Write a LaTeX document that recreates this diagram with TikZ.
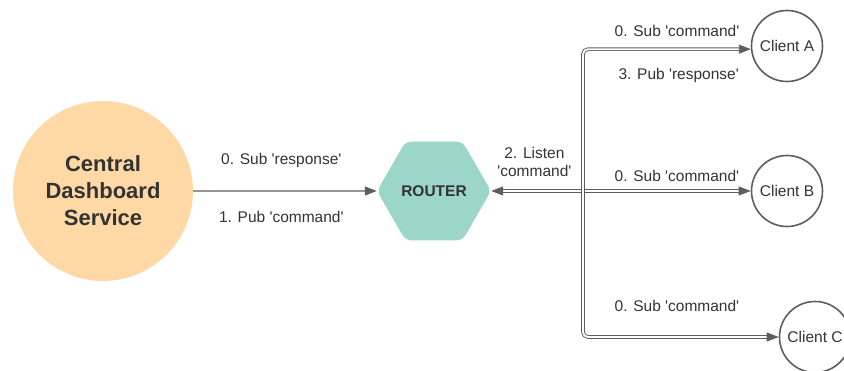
\documentclass[tikz,border=0pt]{standalone}
\usepackage{fontspec}
\setmainfont{Liberation Sans}[Ligatures=TeXOff]
\usetikzlibrary{positioning,shapes.geometric,arrows.meta}
\definecolor{peach}{HTML}{FFD9A5}
\definecolor{routerteal}{HTML}{9CD5C9}
\definecolor{linegray}{HTML}{5E5E5E}
\definecolor{textgray}{HTML}{333333}

\begin{document}
\begin{tikzpicture}[x=1pt,y=1pt,on grid,
    every node/.style={text=textgray},
    service/.style={circle, fill=peach, minimum size=180pt, align=center,
        font=\bfseries\fontsize{22}{27}\selectfont},
    router/.style={regular polygon, regular polygon sides=6, fill=routerteal,
        minimum size=114pt, inner sep=0pt, rounded corners=6pt,
        font=\bfseries\fontsize{15.5}{18}\selectfont},
    client/.style={circle, draw=linegray, line width=1.6pt, minimum size=71pt,
        inner sep=0pt, font=\fontsize{15.5}{18}\selectfont},
    lbl/.style={font=\fontsize{15.5}{18}\selectfont, align=center},
    single/.style={draw=linegray, line width=1.3pt, -{Triangle[length=12pt,width=9pt]}},
    dbl/.style={draw=linegray, double=white, double distance=1.8pt, line width=0.9pt,
        -{Triangle[length=12pt,width=9pt]}},
    corner/.style={rounded corners=5pt, to path={|- (\tikztotarget) \tikztonodes}}]
    \useasboundingbox (0,0) rectangle (844,371);
    \node[service] (dash) at (103,180) {Central\\Dashboard\\Service};
    \node[router] (router) [right=331pt of dash] {ROUTER};
    \coordinate[right=149pt of router] (hub);
    \node[client] (clientB) [right=353pt of router] {Client B};
    \node[client] (clientA) [above=145pt of clientB] {Client A};
    \node[client] (clientC) [below=146pt of clientB, xshift=28pt] {Client C};
    \path
        (dash)
            edge[single] node[lbl, pos=.48, yshift=30pt] {0. Sub 'response'}
                         node[lbl, pos=.48, yshift=-26pt] {1. Pub 'command'} (router)
        (hub)
            edge[dbl] node[lbl, pos=.53, yshift=29pt] {2. Listen\\'command'} (router)
            edge[dbl] node[lbl, pos=.56, yshift=15pt] {0. Sub 'command'} (clientB)
            edge[dbl, corner] node[lbl, pos=.78, yshift=18pt] {0. Sub 'command'}
                              node[lbl, pos=.785, yshift=-26pt] {3. Pub 'response'} (clientA.185)
            edge[dbl, corner] node[lbl, pos=.74, yshift=31pt] {0. Sub 'command'} (clientC.west);
\end{tikzpicture}
\end{document}
